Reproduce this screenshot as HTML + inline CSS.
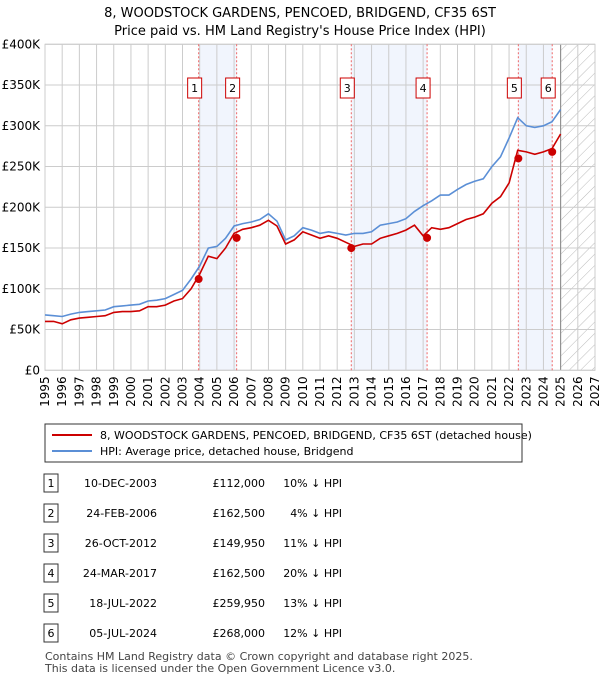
<!DOCTYPE html>
<html><head><meta charset="utf-8"><style>
body{margin:0;background:#fff;font-family:"Liberation Sans","DejaVu Sans",sans-serif;}
#wrap{position:relative;width:600px;height:680px;overflow:hidden}
text{font-family:"DejaVu Sans","Liberation Sans",sans-serif}
</style></head><body><div id="wrap">
<svg id="svg" width="600" height="680"></svg>
</div>
<script>
const years=[1995,1995.5,1996,1996.5,1997,1997.5,1998,1998.5,1999,1999.5,2000,2000.5,2001,2001.5,2002,2002.5,2003,2003.5,2004,2004.5,2005,2005.5,2006,2006.5,2007,2007.5,2008,2008.5,2009,2009.5,2010,2010.5,2011,2011.5,2012,2012.5,2013,2013.5,2014,2014.5,2015,2015.5,2016,2016.5,2017,2017.5,2018,2018.5,2019,2019.5,2020,2020.5,2021,2021.5,2022,2022.5,2023,2023.5,2024,2024.5,2025];
const hpi=[68,67,66,69,71,72,73,74,78,79,80,81,85,86,88,93,98,112,128,150,152,162,177,180,182,185,192,183,160,165,175,172,168,170,168,166,168,168,170,178,180,182,186,195,202,208,215,215,222,228,232,235,250,262,285,310,300,298,300,305,320];
const price=[60,60,57,62,64,65,66,67,71,72,72,73,78,78,80,85,88,100,118,140,137,150,168,173,175,178,184,177,155,160,170,166,162,165,162,157,152,155,155,162,165,168,172,178,165,175,173,175,180,185,188,192,205,213,230,270,268,265,268,272,290];
const saleDates=[2003.94,2006.15,2012.82,2017.23,2022.54,2024.51];
const salePrices=[112,162.5,149.95,162.5,259.95,268];
const saleLabels=["10-DEC-2003","24-FEB-2006","26-OCT-2012","24-MAR-2017","18-JUL-2022","05-JUL-2024"];
const salePriceText=["£112,000","£162,500","£149,950","£162,500","£259,950","£268,000"];
const salePct=["10% ↓ HPI","4% ↓ HPI","11% ↓ HPI","20% ↓ HPI","13% ↓ HPI","12% ↓ HPI"];
const yTicks=[0,50,100,150,200,250,300,350,400];
const yTickLabels=["£0","£50K","£100K","£150K","£200K","£250K","£300K","£350K","£400K"];

const svg=document.getElementById('svg');const NS='http://www.w3.org/2000/svg';
const X0=45,X1=595,Y0=370.3,Y1=44.3;
const xs=y=>X0+(y-1995)/(2027-1995)*(X1-X0);
const ys=v=>Y0-v/400*(Y0-Y1);
function el(t,a,p){const e=document.createElementNS(NS,t);for(const k in a)e.setAttribute(k,a[k]);(p||svg).appendChild(e);return e;}
function tx(s,a,name){const e=el('text',a);e.textContent=s;return e;}
tx("8, WOODSTOCK GARDENS, PENCOED, BRIDGEND, CF35 6ST",{x:300,y:17,'text-anchor':'middle','font-size':13},'chart-title');
tx("Price paid vs. HM Land Registry's House Price Index (HPI)",{x:300,y:35,'text-anchor':'middle','font-size':13},'chart-subtitle');
const defs=el('defs',{});const pat=el('pattern',{id:'h',width:8,height:8,patternUnits:'userSpaceOnUse',patternTransform:'rotate(45)'},defs);el('line',{x1:0,y1:0,x2:0,y2:8,stroke:'#bbb','stroke-width':1},pat);
for(let i=0;i<6;i+=2){const r=el('rect',{x:xs(saleDates[i]),y:Y1,width:xs(saleDates[i+1])-xs(saleDates[i]),height:Y0-Y1,fill:'#eef3fc',opacity:0.8});}
const hr=el('rect',{x:xs(2025),y:Y1,width:X1-xs(2025),height:Y0-Y1,fill:'url(#h)'});
for(let y=1995;y<=2027;y++){el('line',{x1:xs(y),x2:xs(y),y1:Y1,y2:Y0,stroke:'#ccc','stroke-width':1});
 tx(String(y),{x:0,y:0,'font-size':12,'text-anchor':'end',transform:`translate(${xs(y)+4},${Y0+6}) rotate(-90)`},'x-tick-label');}
yTicks.forEach((v,i)=>{el('line',{x1:X0,x2:X1,y1:ys(v),y2:ys(v),stroke:'#ccc','stroke-width':1});tx(yTickLabels[i],{x:40,y:ys(v)+4,'text-anchor':'end','font-size':12},'y-tick-label');});
el('line',{x1:xs(2025),x2:xs(2025),y1:Y1,y2:Y0,stroke:'#888','stroke-width':1});
el('rect',{x:X0,y:Y1,width:X1-X0,height:Y0-Y1,fill:'none',stroke:'#ccc'});
saleDates.forEach((d,i)=>{const l=el('line',{x1:xs(d),x2:xs(d),y1:Y1,y2:Y0,stroke:'#e66','stroke-width':1,'stroke-dasharray':'2,2'});
 const g=el('g',{});
 el('rect',{x:xs(d)-11,y:78,width:14,height:20,fill:'#fff',stroke:'#c00'},g);
 const t=el('text',{x:xs(d)-4,y:92,'text-anchor':'middle','font-size':11},g);t.textContent=String(i+1);});
function line(arr,col,name){const p=el('path',{d:arr.map((v,i)=>(i?'L':'M')+xs(years[i]).toFixed(1)+','+ys(v).toFixed(1)).join(''),fill:'none',stroke:col,'stroke-width':1.6});}
line(hpi,'#5b8fd6','hpi-line');line(price,'#cc0000','price-line');
saleDates.forEach((d,i)=>{const c=el('circle',{cx:xs(d),cy:ys(salePrices[i]),r:4,fill:'#cc0000'});});
const lg=el('g',{});
el('rect',{x:45,y:424,width:477,height:38,fill:'#fff',stroke:'#333'},lg);
el('line',{x1:52,x2:92,y1:435,y2:435,stroke:'#cc0000','stroke-width':2},lg);
el('line',{x1:52,x2:92,y1:451,y2:451,stroke:'#5b8fd6','stroke-width':2},lg);
tx("8, WOODSTOCK GARDENS, PENCOED, BRIDGEND, CF35 6ST (detached house)",{x:100,y:439,'font-size':11},'legend-entry-price');
tx("HPI: Average price, detached house, Bridgend",{x:100,y:455,'font-size':11},'legend-entry-hpi');
saleLabels.forEach((s,i)=>{const y=483+i*30;
 const r=el('rect',{x:44,y:y-9,width:14,height:18,fill:'#fff',stroke:'#333'});
 tx(String(i+1),{x:51,y:y+4,'text-anchor':'middle','font-size':11},'row-number');
 tx(s,{x:157,y:y+4,'text-anchor':'end','font-size':11},'sale-date');
 tx(salePriceText[i],{x:265,y:y+4,'text-anchor':'end','font-size':11},'sale-price');
 tx(salePct[i],{x:342,y:y+4,'text-anchor':'end','font-size':11},'sale-hpi-diff');});
tx("Contains HM Land Registry data © Crown copyright and database right 2025.",{x:45,y:660,'font-size':11,fill:'#444'},'footer-line-1');
tx("This data is licensed under the Open Government Licence v3.0.",{x:45,y:672,'font-size':11,fill:'#444'},'footer-line-2');
</script></body></html>
